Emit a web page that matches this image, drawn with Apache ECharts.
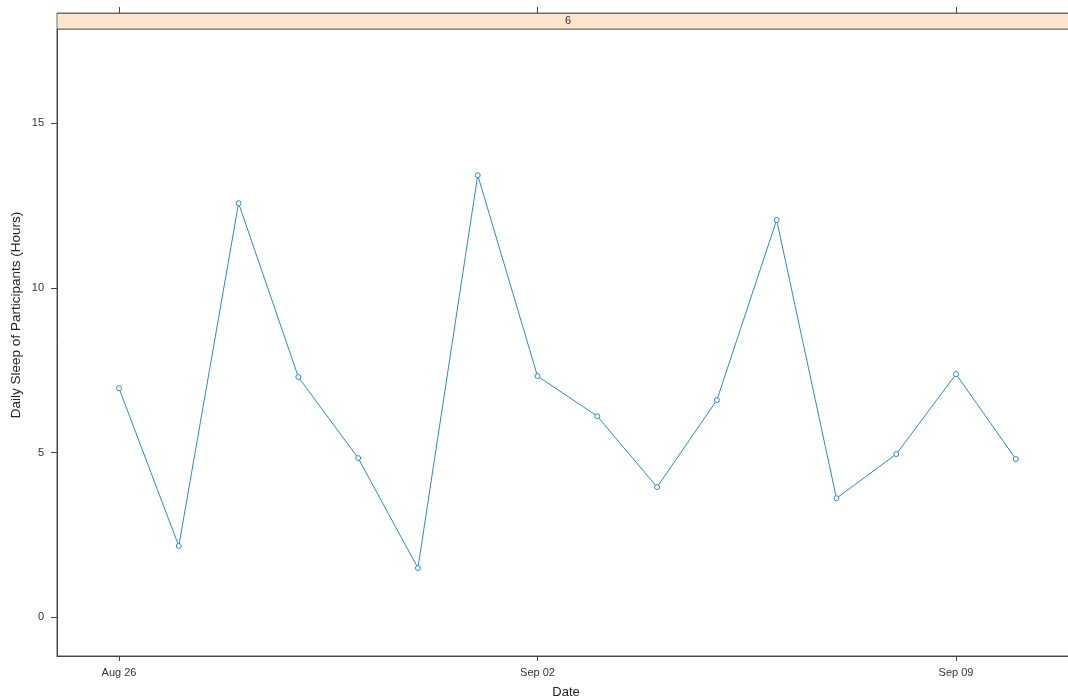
<!DOCTYPE html>
<html>
<head>
<meta charset="utf-8">
<script src="https://cdn.jsdelivr.net/npm/echarts@6/dist/echarts.min.js"></script>
<style>
html,body{margin:0;padding:0;background:#fff;}
#chart{width:1068px;height:700px;}
</style>
</head>
<body>
<div id="chart"></div>
<script>
var dates = ['2023-08-26','2023-08-27','2023-08-28','2023-08-29','2023-08-30','2023-08-31','2023-09-01','2023-09-02','2023-09-03','2023-09-04','2023-09-05','2023-09-06','2023-09-07','2023-09-08','2023-09-09','2023-09-10'];
var sleepHours = [6.95, 2.16, 12.57, 7.29, 4.83, 1.49, 13.42, 7.32, 6.10, 3.95, 6.59, 12.06, 3.61, 4.95, 7.38, 4.80];
var xTickDates = ['2023-08-26','2023-09-02','2023-09-09'];
var xTickLabels = ['Aug 26','Sep 02','Sep 09'];
var yTicks = [0, 5, 10, 15];
var stripLabel = '6';
var xTitle = 'Date';
var yTitle = 'Daily Sleep of Participants (Hours)';

var DAY = 86400000;
function ts(s){ var p = s.split('-'); return Date.UTC(+p[0], +p[1]-1, +p[2]); }
var t0 = ts(dates[0]);
var xMin = t0 - 1.037 * DAY;
var xMax = t0 + 16.057 * DAY;
var tickTs = xTickDates.map(ts);
var labelMap = {};
tickTs.forEach(function(t, i){ labelMap[t] = xTickLabels[i]; });

var lineColor = '#2a8cc8';
var axisColor = '#444';
var font = 'Liberation Sans, Arial, sans-serif';

var chart = echarts.init(document.getElementById('chart'), null, {renderer: 'canvas'});
chart.setOption({
  animation: false,
  backgroundColor: '#fff',
  grid: [
    {left: 57, top: 29, width: 1022, height: 627, show: true, borderColor: '#555', borderWidth: 1, backgroundColor: 'transparent', outerBoundsMode: 'none', containLabel: false},
    {left: 57, top: 13, width: 1022, height: 16, show: true, borderColor: '#6e6e6e', borderWidth: 1, backgroundColor: '#ffe5cc', outerBoundsMode: 'none', containLabel: false}
  ],
  xAxis: [
    {
      type: 'value', gridIndex: 0, min: xMin, max: xMax, position: 'bottom',
      axisLine: {show: true, onZero: false, lineStyle: {color: axisColor, width: 1}},
      axisTick: {show: true, inside: false, length: 5, customValues: tickTs, lineStyle: {color: axisColor}},
      axisLabel: {show: true, customValues: tickTs, margin: 11, fontFamily: font, fontSize: 11, color: '#333',
        formatter: function(v){ return labelMap[v] || ''; }},
      splitLine: {show: false}
    },
    {
      type: 'value', gridIndex: 1, min: xMin, max: xMax, position: 'top',
      axisLine: {show: true, onZero: false, lineStyle: {color: '#6e6e6e', width: 1}},
      axisTick: {show: true, inside: false, length: 6, customValues: tickTs, lineStyle: {color: axisColor}},
      axisLabel: {show: false},
      splitLine: {show: false}
    }
  ],
  yAxis: [
    {
      type: 'value', gridIndex: 0, min: -1.18, max: 17.86,
      axisLine: {show: true, onZero: false, lineStyle: {color: axisColor, width: 1}},
      axisTick: {show: true, inside: false, length: 6, customValues: yTicks, lineStyle: {color: axisColor}},
      axisLabel: {show: true, customValues: yTicks, margin: 13, fontFamily: font, fontSize: 11, color: '#333'},
      splitLine: {show: false}
    },
    {
      type: 'value', gridIndex: 1, min: 0, max: 1,
      axisLine: {show: false}, axisTick: {show: false}, axisLabel: {show: false}, splitLine: {show: false}
    }
  ],
  graphic: [
    {type: 'text', x: 568, y: 21, style: {text: stripLabel, font: '11px Liberation Sans, Arial, sans-serif', fill: '#333', align: 'center', verticalAlign: 'middle'}},
    {type: 'text', x: 566, y: 692, style: {text: xTitle, font: '13px Liberation Sans, Arial, sans-serif', fill: '#222', align: 'center', verticalAlign: 'middle'}},
    {type: 'text', x: 16, y: 315, rotation: Math.PI / 2, style: {text: yTitle, font: '13.5px Liberation Sans, Arial, sans-serif', fill: '#222', align: 'center', verticalAlign: 'middle'}}
  ],
  series: [{
    type: 'line', xAxisIndex: 0, yAxisIndex: 0,
    data: dates.map(function(d, i){ return [ts(d), sleepHours[i]]; }),
    symbol: 'circle', symbolSize: 5, showAllSymbol: true,
    lineStyle: {color: lineColor, width: 1},
    itemStyle: {color: '#fff', borderColor: lineColor, borderWidth: 1},
    clip: false
  }]
});
</script>
</body>
</html>
